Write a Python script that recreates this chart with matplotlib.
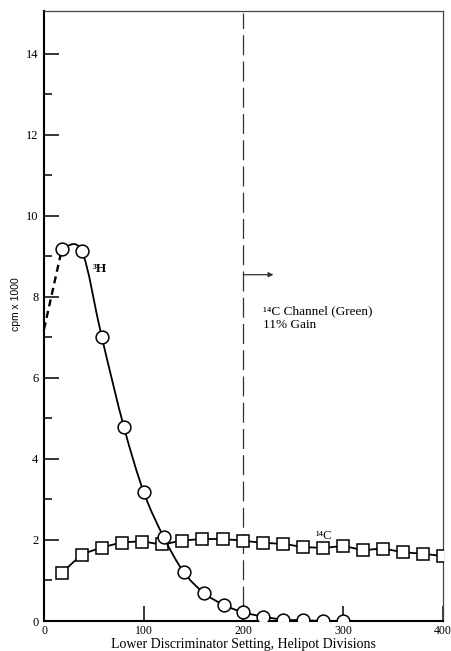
#!/usr/bin/env python3
"""Discriminator curve: 3H and 14C count rate vs lower discriminator setting."""

import matplotlib

matplotlib.use("Agg")
import matplotlib.pyplot as plt
import numpy as np
from matplotlib.patches import PathPatch
from matplotlib.path import Path

# data
H3_X = [18, 38, 58, 80, 100, 120, 140, 160, 180, 200, 220, 240, 260, 280, 300]
H3_Y = [9.19, 9.13, 7.0, 4.8, 3.18, 2.07, 1.21, 0.70, 0.40, 0.21, 0.11, 0.03, 0.02, 0.0, 0.0]
H3_EXTRAP_X = [0, 18]
H3_EXTRAP_Y = [7.2, 9.19]

C14_X = [18, 38, 58, 78, 98, 118, 138, 158, 179, 200, 220, 240, 260, 280, 300,
         320, 340, 360, 380, 400]
C14_Y = [1.19, 1.62, 1.81, 1.93, 1.96, 1.90, 1.98, 2.02, 2.02, 1.98, 1.93, 1.90,
         1.83, 1.81, 1.84, 1.76, 1.78, 1.70, 1.66, 1.60]

CHANNEL_X = 200
Y_TICKS = [0, 2, 4, 6, 8, 10, 12, 14]
X_TICKS = [0, 100, 200, 300, 400]

SERIF = ["Liberation Serif", "DejaVu Serif"]


def smooth_path(xs, ys):
    """Catmull-Rom through the points, as cubic Bezier segments."""
    pts = np.column_stack([xs, ys]).astype(float)
    ext = np.vstack([pts[0], pts, pts[-1]])
    verts = [pts[0]]
    codes = [Path.MOVETO]
    for i in range(1, len(ext) - 2):
        p0, p1, p2, p3 = ext[i - 1], ext[i], ext[i + 1], ext[i + 2]
        verts += [p1 + (p2 - p0) / 6, p2 - (p3 - p1) / 6, p2]
        codes += [Path.CURVE4] * 3
    return Path(verts, codes)


fig = plt.figure(figsize=(4.51, 6.51), dpi=100)
ax = fig.add_axes([44 / 451, 30 / 651, 399 / 451, 610 / 651])

ax.add_patch(PathPatch(smooth_path(C14_X, C14_Y), fill=False, lw=1.3, color="black", zorder=2))
ax.plot(C14_X, C14_Y, ls="none", marker="s", ms=8, mfc="white", mec="black", mew=1.1, zorder=3)

ax.add_patch(PathPatch(smooth_path(H3_X, H3_Y), fill=False, lw=1.3, color="black", zorder=4))
ax.plot(H3_EXTRAP_X, H3_EXTRAP_Y, ls=(0, (3, 2)), lw=1.7, color="black", zorder=4)
ax.plot(H3_X, H3_Y, ls="none", marker="o", ms=9.2, mfc="white", mec="black", mew=1.1, zorder=5)

ax.axvline(CHANNEL_X, ymin=0.025, ymax=0.997, color="#333333", lw=0.9, ls=(0, (16, 5)), zorder=1)
ax.annotate("", xy=(230, 8.55), xytext=(CHANNEL_X, 8.55),
            arrowprops=dict(arrowstyle="-|>", lw=0.9, color="#333333",
                            mutation_scale=7, shrinkA=0, shrinkB=0))

ax.text(220, 7.64, "\u00b9\u2074C Channel (Green)", family=SERIF, fontsize=9.5, va="center")
ax.text(220, 7.30, "11% Gain", family=SERIF, fontsize=9.5, va="center")
ax.text(49, 8.7, "\u00b3H", family=SERIF, fontsize=9.5, va="center", fontweight="bold")
ax.text(272, 2.1, "\u00b9\u2074C", family=SERIF, fontsize=9, va="center")

ax.set_xlim(0, 400)
ax.set_ylim(0, 15.06)
ax.set_xticks(X_TICKS)
ax.set_xticklabels([str(v) for v in X_TICKS], family=SERIF, fontsize=8.5)
ax.set_yticks(Y_TICKS)
ax.set_yticklabels([str(v) for v in Y_TICKS], family=SERIF, fontsize=9)
ax.set_yticks([1, 3, 5, 7, 9, 11, 13], minor=True)
ax.tick_params(axis="both", which="major", direction="in", length=11, width=1.1, pad=4)
ax.tick_params(axis="x", which="major", pad=3)
ax.tick_params(axis="y", which="minor", direction="in", length=5.5, width=1.1)

for side in ("left", "bottom"):
    ax.spines[side].set_linewidth(1.5)
for side in ("top", "right"):
    ax.spines[side].set_linewidth(0.9)
    ax.spines[side].set_color("#444444")

ax.set_xlabel("Lower Discriminator Setting, Helipot Divisions", family=SERIF, fontsize=10,
              labelpad=0.5)
ax.set_ylabel("cpm x 1000", family=["Liberation Sans", "DejaVu Sans"], fontsize=7.5)
ax.yaxis.set_label_coords(-0.058, 0.52)

fig.savefig("out.png", dpi=100)
plt.close(fig)
